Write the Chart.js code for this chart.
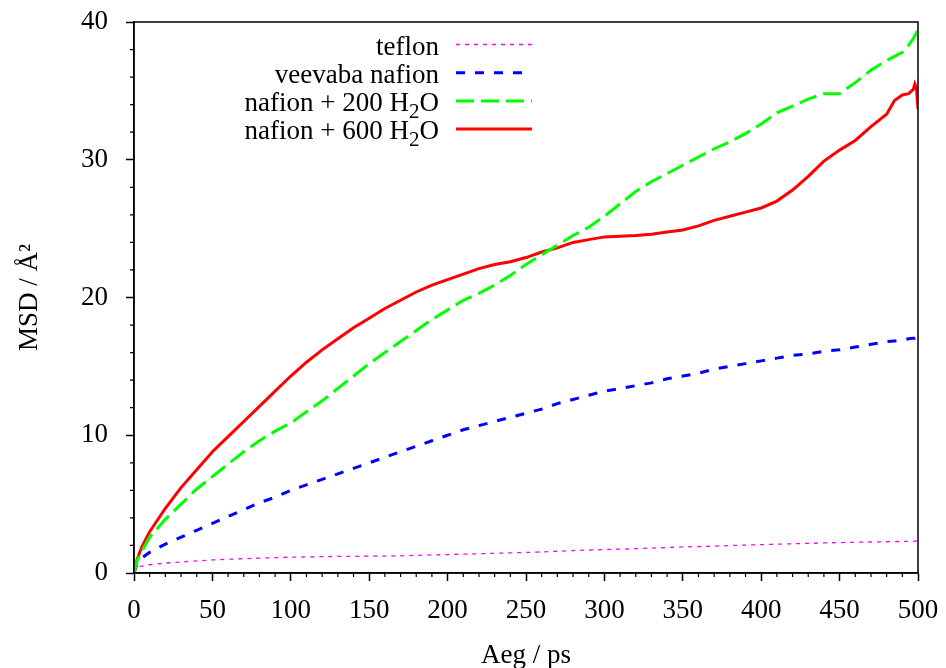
<!DOCTYPE html>
<html>
<head>
<meta charset="utf-8">
<script src="https://cdn.jsdelivr.net/npm/chart.js@4.4.1/dist/chart.umd.min.js"></script>
<style>
    html, body { margin: 0; padding: 0; background: #fff; }
</style>
</head>
<body>
<canvas id="myChart" width="946" height="668"></canvas>
<script>
// time axis (ps), shared by all series
var timePs = [0, 2, 5, 10, 20, 30, 40, 50, 60, 70, 80, 90, 100, 110, 120, 130, 140, 150, 160, 170,
    180, 190, 200, 210, 220, 230, 240, 250, 260, 270, 280, 290, 300, 310, 320, 330, 340, 350, 360,
    370, 380, 390, 400, 410, 420, 430, 440, 450, 460, 470, 480, 485, 490, 494, 497, 498, 499, 500];

var teflon = [0, 0.4, 0.5, 0.6, 0.72, 0.8, 0.88, 0.95, 1.0, 1.04, 1.08, 1.12, 1.15, 1.17, 1.19, 1.2, 1.21,
    1.22, 1.23, 1.25, 1.28, 1.31, 1.34, 1.37, 1.4, 1.43, 1.46, 1.49, 1.53, 1.58, 1.63, 1.67, 1.7, 1.73,
    1.77, 1.81, 1.85, 1.89, 1.92, 1.95, 1.99, 2.03, 2.06, 2.09, 2.12, 2.15, 2.18, 2.21, 2.23, 2.25,
    2.27, 2.28, 2.29, 2.3, 2.3, 2.31, 2.31, 2.31];

var dryNafion = [0, 0.7, 1.1, 1.5, 2.1, 2.6, 3.1, 3.6, 4.1, 4.6, 5.1, 5.5, 6.0, 6.4, 6.8, 7.2, 7.6, 8.0,
    8.4, 8.8, 9.2, 9.6, 10.0, 10.4, 10.7, 11.0, 11.3, 11.6, 11.9, 12.3, 12.6, 12.9, 13.2, 13.4, 13.6,
    13.8, 14.1, 14.3, 14.5, 14.8, 15.0, 15.2, 15.4, 15.6, 15.8, 15.9, 16.1, 16.2, 16.4, 16.6, 16.8,
    16.85, 16.9, 17.0, 17.05, 17.05, 17.1, 17.1];

var nafion200 = [0, 0.9, 1.6, 2.6, 3.9, 5.0, 6.1, 7.0, 7.9, 8.8, 9.6, 10.3, 10.9, 11.7, 12.5, 13.4, 14.3,
    15.2, 16.0, 16.8, 17.6, 18.4, 19.1, 19.8, 20.3, 20.9, 21.6, 22.4, 23.1, 23.8, 24.5, 25.1, 25.9,
    26.8, 27.7, 28.4, 29.0, 29.6, 30.2, 30.8, 31.3, 31.9, 32.6, 33.4, 33.9, 34.4, 34.8, 34.8, 35.6,
    36.5, 37.2, 37.5, 37.8, 38.3, 38.8, 39.0, 39.2, 39.5];

var nafion600 = [0, 1.0, 1.9, 3.0, 4.7, 6.2, 7.5, 8.8, 9.9, 11.0, 12.1, 13.2, 14.3, 15.3, 16.2, 17.0,
    17.8, 18.5, 19.2, 19.8, 20.4, 20.9, 21.3, 21.7, 22.1, 22.4, 22.6, 22.9, 23.3, 23.6, 24.0, 24.2,
    24.4, 24.45, 24.5, 24.6, 24.75, 24.9, 25.2, 25.6, 25.9, 26.2, 26.5, 27.0, 27.8, 28.8, 29.9, 30.7,
    31.4, 32.4, 33.3, 34.3, 34.7, 34.8, 35.1, 35.5, 35.2, 33.7];

var seriesNames = ['teflon', 'veevaba nafion', 'nafion + 200 H₂O', 'nafion + 600 H₂O'];
var xTicks = [0, 50, 100, 150, 200, 250, 300, 350, 400, 450, 500];
var yTicks = [0, 10, 20, 30, 40];

var FONT = 'Liberation Serif';

function pts(ys) {
    var out = [];
    for (var i = 0; i < timePs.length; i++) {
        out.push({ x: timePs[i], y: ys[i] });
    }
    return out;
}

// chart area = layout padding only, no extra room for end labels
function noScalePadding(scale) {
    scale.paddingTop = 0;
    scale.paddingBottom = 0;
    scale.paddingLeft = 0;
    scale.paddingRight = 0;
}

// gnuplot style: key in the top left, text right aligned, sample line on the right
var keyPlugin = {
    id: 'gnuKey',
    afterDatasetsDraw: function(chart) {
        var ctx = chart.ctx;
        var sets = chart.data.datasets;
        var textRight = 439, lineX0 = 456, lineX1 = 532, y0 = 44.5, dy = 28.2;
        var size = 27, subSize = 21;
        ctx.save();
        for (var i = 0; i < sets.length; i++) {
            var y = y0 + i * dy;
            // split around subscript
            var parts = sets[i].label.split('₂');
            ctx.font = size + 'px "' + FONT + '"';
            var w = ctx.measureText(parts[0]).width;
            var wSub = 0, wTail = 0;
            if (parts.length > 1) {
                ctx.font = subSize + 'px "' + FONT + '"';
                wSub = ctx.measureText('2').width;
                ctx.font = size + 'px "' + FONT + '"';
                wTail = ctx.measureText(parts[1]).width;
            }
            var x = textRight - w - wSub - wTail;
            ctx.fillStyle = '#000';
            ctx.textBaseline = 'alphabetic';
            ctx.textAlign = 'left';
            ctx.font = size + 'px "' + FONT + '"';
            ctx.fillText(parts[0], x, y + 10);
            if (parts.length > 1) {
                ctx.font = subSize + 'px "' + FONT + '"';
                ctx.fillText('2', x + w, y + 17);
                ctx.font = size + 'px "' + FONT + '"';
                ctx.fillText(parts[1], x + w + wSub, y + 10);
            }
            ctx.strokeStyle = sets[i].borderColor;
            ctx.lineWidth = sets[i].borderWidth;
            ctx.setLineDash(sets[i].borderDash || []);
            ctx.beginPath();
            ctx.moveTo(lineX0, y);
            ctx.lineTo(lineX1, y);
            ctx.stroke();
        }
        ctx.restore();
    },
    afterDraw: function(chart) {
        var ctx = chart.ctx;
        var a = chart.chartArea;
        var xs = chart.scales.x, ys = chart.scales.y;
        ctx.save();
        ctx.strokeStyle = '#000';
        ctx.lineWidth = 1.5;
        ctx.setLineDash([]);
        ctx.strokeRect(a.left, a.top, a.right - a.left, a.bottom - a.top);
        // minor ticks
        ctx.lineWidth = 1.2;
        ctx.beginPath();
        for (var v = 10; v < 500; v += 10) {
            if (v % 50 === 0) continue;
            var px = xs.getPixelForValue(v);
            ctx.moveTo(px, a.bottom);
            ctx.lineTo(px, a.bottom + 4);
        }
        for (var u = 2; u < 40; u += 2) {
            if (u % 10 === 0) continue;
            var py = ys.getPixelForValue(u);
            ctx.moveTo(a.left, py);
            ctx.lineTo(a.left - 4, py);
        }
        ctx.stroke();
        ctx.restore();
    }
};

var ctx = document.getElementById('myChart');
var chart = new Chart(ctx, {
    type: 'line',
    data: {
        datasets: [{
            label: seriesNames[0],
            data: pts(teflon),
            borderColor: '#ff00ff',
            borderWidth: 1.3,
            borderDash: [4, 5],
            order: 4
        }, {
            label: seriesNames[1],
            data: pts(dryNafion),
            borderColor: '#0000ff',
            borderWidth: 3,
            borderDash: [9, 10],
            order: 3
        }, {
            label: seriesNames[2],
            data: pts(nafion200),
            borderColor: '#00ff00',
            borderWidth: 3,
            borderDash: [18, 7],
            order: 1
        }, {
            label: seriesNames[3],
            data: pts(nafion600),
            borderColor: '#ff0000',
            borderWidth: 3,
            order: 2
        }]
    },
    options: {
        responsive: false,
        animation: false,
        layout: { padding: { top: 22, right: 28, left: 0, bottom: 0 } },
        elements: {
            point: { radius: 0, hoverRadius: 0 },
            line: { tension: 0, fill: false }
        },
        plugins: {
            legend: { display: false },
            tooltip: { enabled: false }
        },
        scales: {
            x: {
                type: 'linear',
                min: 0,
                max: 500,
                afterBuildTicks: function(scale) {
                    scale.ticks = xTicks.map(function(v) { return { value: v }; });
                },
                afterFit: function(scale) {
                    scale.height = 95;
                    noScalePadding(scale);
                },
                ticks: {
                    color: '#000',
                    font: { family: FONT, size: 27 },
                    padding: 14,
                    maxRotation: 0
                },
                grid: {
                    drawOnChartArea: false,
                    tickLength: 8,
                    tickColor: '#000',
                    tickWidth: 1.5
                },
                border: { color: '#000', width: 1.5 },
                title: {
                    display: true,
                    text: 'Aeg / ps',
                    color: '#000',
                    font: { family: FONT, size: 27 },
                    padding: { top: 0, bottom: -4 }
                }
            },
            y: {
                type: 'linear',
                min: 0,
                max: 40,
                afterBuildTicks: function(scale) {
                    scale.ticks = yTicks.map(function(v) { return { value: v }; });
                },
                afterFit: function(scale) {
                    scale.width = 134;
                    noScalePadding(scale);
                },
                ticks: {
                    color: '#000',
                    font: { family: FONT, size: 27 },
                    padding: 18
                },
                grid: {
                    drawOnChartArea: false,
                    tickLength: 8,
                    tickColor: '#000',
                    tickWidth: 1.5
                },
                border: { color: '#000', width: 1.5 },
                title: {
                    display: true,
                    text: 'MSD / Å²',
                    color: '#000',
                    font: { family: FONT, size: 27 },
                    padding: { top: 14, bottom: 0 }
                }
            }
        }
    },
    plugins: [keyPlugin]
});
</script>
</body>
</html>
